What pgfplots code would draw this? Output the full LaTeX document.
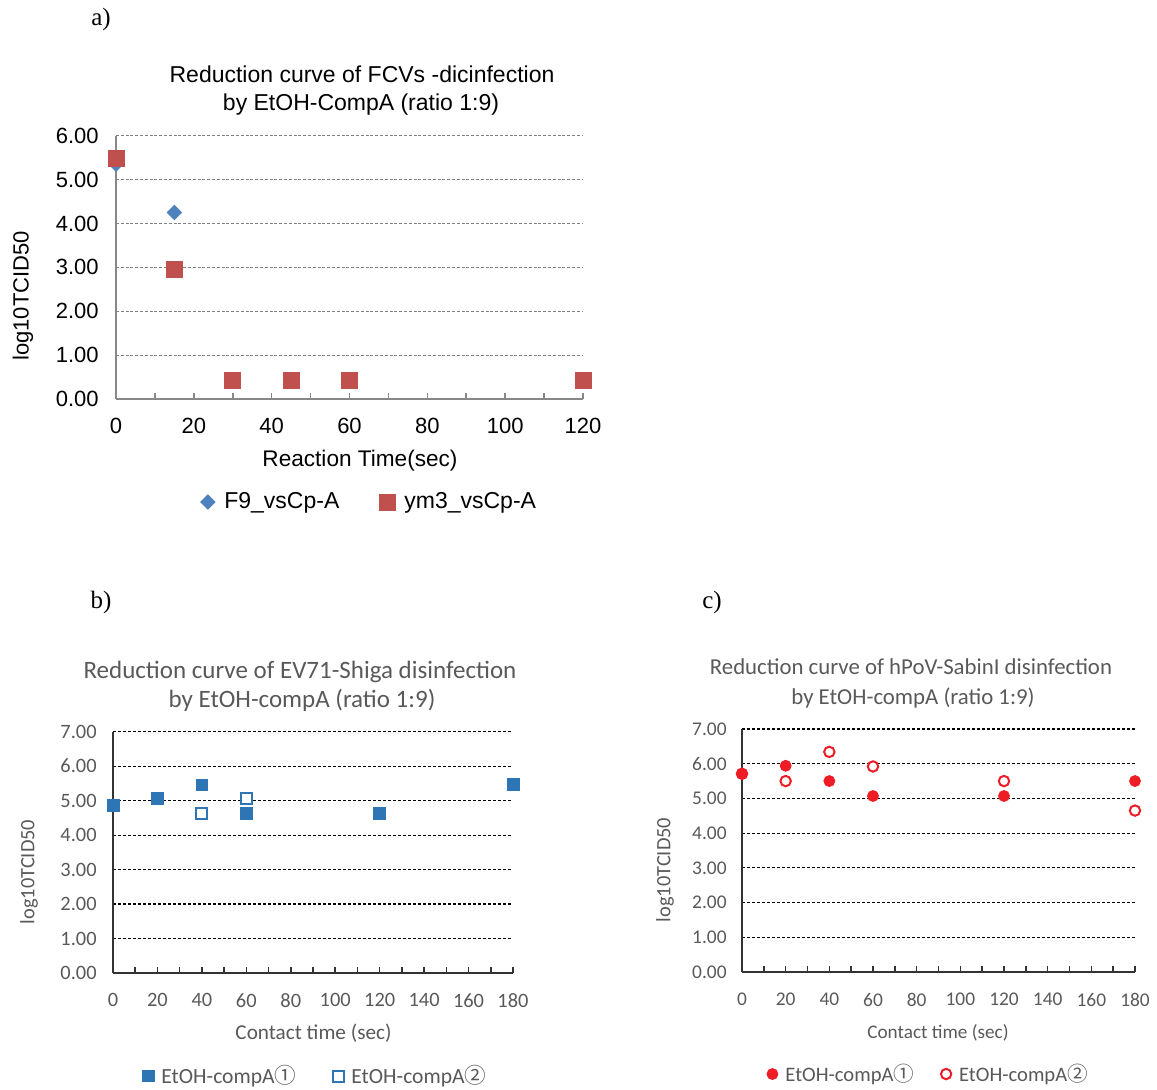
\documentclass[border=0pt]{standalone}
\usepackage{fontspec}
\setmainfont{Liberation Sans}
\newfontfamily\arialf{Liberation Sans}
\newfontfamily\timesf{Liberation Serif}
\newfontfamily\calf{Carlito}
\newfontfamily\cjkf{Noto Sans CJK JP}
\usepackage{pgfplots}
\pgfplotsset{compat=1.18}
\definecolor{ablue}{HTML}{4F81BD}
\definecolor{ared}{HTML}{C0504D}
\definecolor{agrey}{HTML}{888888}
\definecolor{agrid}{HTML}{7F7F7F}
\definecolor{bblue}{HTML}{2E75B6}
\definecolor{cred}{HTML}{EE1C25}
\definecolor{tgrey}{HTML}{595959}
\definecolor{bline}{HTML}{333333}
\definecolor{bgrid}{HTML}{000000}
\pgfplotsset{
  excel/.style={
    scale only axis, anchor=south west, enlargelimits=false, clip=false, set layers,
    axis lines=left, ymin=0, xmin=0,
    tick align=inside, major tick length=3pt, minor tick length=3pt,
    ytick style={draw=none},
    ymajorgrids,
    /pgf/number format/assume math mode=true,
    xticklabel style={inner sep=0pt, anchor=north},
    yticklabel style={inner sep=0pt, anchor=east, /pgf/number format/fixed, /pgf/number format/fixed zerofill, /pgf/number format/precision=2},
    legend columns=2, legend cell align=left,
  }
}
\begin{document}
\begin{tikzpicture}
\path (0,0) rectangle (578.5pt,545pt);

% ---------------- panel a ----------------
\begin{axis}[excel,
  at={(58pt,345.5pt)}, width=233.5pt, height=131.65pt,
  xmax=120, ymax=6,
  xtick={0,20,...,120}, minor xtick={10,30,...,110}, ytick={0,1,...,6},
  axis line style={-, draw=agrey, line width=1pt},
  xtick style={draw=agrey, line width=0.8pt},
  major grid style={draw=agrid, line width=0.5pt, dash pattern=on 1.5pt off 0.9pt},
  tick label style={font=\arialf\fontsize{11}{13}\selectfont, text=black},
  xticklabel style={yshift=-9.5pt},
  yticklabel style={xshift=-8.5pt},
  legend style={draw=none, fill=none, at={(0.092,-0.391)}, anchor=west, inner sep=0pt,
    font=\arialf\fontsize{11.5}{13}\selectfont, text=black, nodes={inner sep=0pt}},
  legend image code/.code={\path[draw=none, fill=none] (-24.25pt,0pt) -- (8.25pt,0pt); \draw[#1] plot coordinates {(0pt,0pt)};},
]
\addplot[only marks, mark=square*, mark size=2.55pt, mark options={rotate=45, fill=ablue, draw=ablue}]
  coordinates {(0,5.35) (15,4.25) (30,0.42) (45,0.42) (60,0.42) (120,0.42)};
\addlegendentry{F9\_vsCp-A}
\addplot[only marks, mark=square*, mark size=4pt, mark options={fill=ared, draw=ared}]
  coordinates {(0,5.48) (15,2.95) (30,0.42) (45,0.42) (60,0.42) (120,0.42)};
\addlegendentry{ym3\_vsCp-A}
\end{axis}

% ---------------- panel b ----------------
\begin{axis}[excel,
  at={(56.5pt,58.5pt)}, width=200pt, height=120.65pt,
  xmax=180, ymax=7,
  xtick={0,20,...,180}, minor xtick={10,30,...,170}, ytick={0,1,...,7},
  axis line style={-, draw=bline, line width=0.8pt},
  xtick style={draw=bline, line width=0.8pt},
  major grid style={draw=bgrid, line width=0.6pt, dash pattern=on 1.6pt off 0.9pt},
  tick label style={font=\calf\fontsize{10.2}{12}\selectfont, text=tgrey},
  xticklabel style={yshift=-10pt},
  yticklabel style={xshift=-8pt},
  legend style={draw=none, fill=none, at={(-0.0175,-0.427)}, anchor=west, inner sep=0pt,
    font=\calf\fontsize{10.8}{12}\selectfont, text=tgrey, nodes={inner sep=0pt}},
  legend image code/.code={\path[draw=none, fill=none] (-21pt,0pt) -- (6.5pt,0pt); \draw[#1] plot coordinates {(0pt,0pt)};},
]
\addplot[forget plot, only marks, mark=square*, mark size=2.75pt, mark options={fill=white, draw=bblue, line width=1pt}]
  coordinates {(0,4.85) (20,5.05) (40,4.63) (60,5.05) (120,4.63) (180,5.46)};
\addplot[only marks, mark=square*, mark size=2.85pt, mark options={fill=bblue, draw=bblue}]
  coordinates {(0,4.85) (20,5.05) (40,5.46) (60,4.63) (120,4.63) (180,5.46)};
\addlegendentry{EtOH-compA{\cjkf ①}}
\addlegendimage{only marks, mark=square*, mark size=2.75pt, mark options={fill=white, draw=bblue, line width=1pt}}
\addlegendentry{EtOH-compA{\cjkf ②}}
\end{axis}

% ---------------- panel c ----------------
\begin{axis}[excel,
  at={(371pt,59pt)}, width=196.5pt, height=121.5pt,
  xmax=180, ymax=7,
  xtick={0,20,...,180}, minor xtick={10,30,...,170}, ytick={0,1,...,7},
  axis line style={-, draw=bline, line width=0.8pt},
  xtick style={draw=bline, line width=0.8pt},
  major grid style={draw=bgrid, line width=0.6pt, dash pattern=on 1.6pt off 0.9pt},
  tick label style={font=\calf\fontsize{9.7}{12}\selectfont, text=tgrey},
  xticklabel style={yshift=-10.5pt},
  yticklabel style={xshift=-7.5pt},
  legend style={draw=none, fill=none, at={(-0.005,-0.42)}, anchor=west, inner sep=0pt,
    font=\calf\fontsize{10.3}{12}\selectfont, text=tgrey, nodes={inner sep=0pt}},
  legend image code/.code={\path[draw=none, fill=none] (-16pt,0pt) -- (6.5pt,0pt); \draw[#1] plot coordinates {(0pt,0pt)};},
]
\addplot[forget plot, only marks, mark=*, mark size=2.6pt, mark options={fill=white, draw=cred, line width=1pt}]
  coordinates {(0,5.71) (20,5.5) (40,6.34) (60,5.92) (120,5.5) (180,4.65)};
\addplot[only marks, mark=*, mark size=2.75pt, mark options={fill=cred, draw=cred}]
  coordinates {(0,5.71) (20,5.94) (40,5.5) (60,5.07) (120,5.07) (180,5.5)};
\addlegendentry{EtOH-compA{\cjkf ①}}
\addlegendimage{only marks, mark=*, mark size=2.6pt, mark options={fill=white, draw=cred, line width=1pt}}
\addlegendentry{EtOH-compA{\cjkf ②}}
\end{axis}

% ---------------- texts ----------------
\node[font=\timesf\fontsize{12.5}{14}\selectfont] at (50.5pt,535pt) {a)};
\node[font=\timesf\fontsize{12.5}{14}\selectfont] at (50.5pt,243.5pt) {b)};
\node[font=\timesf\fontsize{12.5}{14}\selectfont] at (356pt,243.5pt) {c)};

\node[font=\arialf\fontsize{11.5}{13}\selectfont, anchor=base] at (181pt,503.5pt) {Reduction curve of FCVs -dicinfection};
\node[font=\arialf\fontsize{11.5}{13}\selectfont, anchor=base] at (180.5pt,489.5pt) {by EtOH-CompA (ratio 1:9)};
\node[font=\arialf\fontsize{11.3}{13}\selectfont, anchor=base] at (180pt,311.5pt) {Reaction Time(sec)};
\node[font=\arialf\fontsize{11}{13}\selectfont, rotate=90] at (11.5pt,397pt) {log10TCID50};

\node[font=\calf\fontsize{12.5}{14}\selectfont, text=tgrey, anchor=base] at (150pt,205.5pt) {Reduction curve of EV71-Shiga disinfection};
\node[font=\calf\fontsize{12.5}{14}\selectfont, text=tgrey, anchor=base] at (151pt,191pt) {by EtOH-compA (ratio 1:9)};
\node[font=\calf\fontsize{10.6}{12}\selectfont, text=tgrey, anchor=base] at (156.75pt,25pt) {Contact time (sec)};
\node[font=\calf\fontsize{10.2}{12}\selectfont, text=tgrey, rotate=90] at (14.5pt,109pt) {log10TCID50};

\node[font=\calf\fontsize{11.4}{14}\selectfont, text=tgrey, anchor=base] at (455.5pt,207.5pt) {Reduction curve of hPoV-SabinI disinfection};
\node[font=\calf\fontsize{11.4}{14}\selectfont, text=tgrey, anchor=base] at (456.5pt,192.5pt) {by EtOH-compA (ratio 1:9)};
\node[font=\calf\fontsize{9.6}{12}\selectfont, text=tgrey, anchor=base] at (469pt,25.5pt) {Contact time (sec)};
\node[font=\calf\fontsize{10.2}{12}\selectfont, text=tgrey, rotate=90] at (332.5pt,110pt) {log10TCID50};
\end{tikzpicture}
\end{document}
